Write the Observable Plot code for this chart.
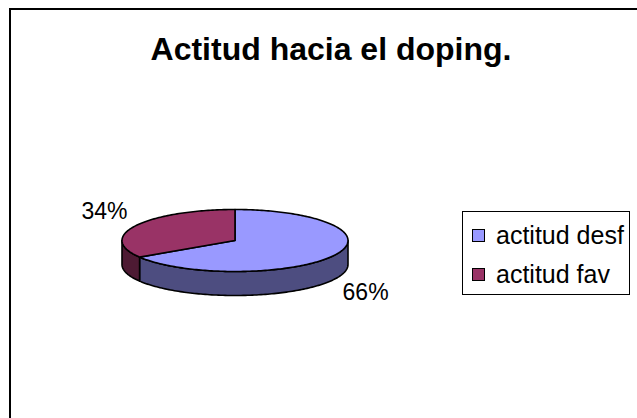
<!DOCTYPE html>
<html><head><meta charset="utf-8">
<script src="https://cdn.jsdelivr.net/npm/d3@7"></script>
<script src="https://cdn.jsdelivr.net/npm/@observablehq/plot@0.6"></script>
<style>
html,body{margin:0;padding:0;background:#fff;overflow:hidden;width:637px;height:418px;font-family:"Liberation Sans",Arial,sans-serif}
#frame{position:absolute;left:9px;top:8px;width:720px;height:520px;border:2px solid #000;box-sizing:border-box}
#chart{position:absolute;left:0;top:0}
#title{position:absolute;left:10px;width:642px;top:30px;text-align:center;font-weight:bold;font-size:32px;line-height:38px;color:#000}
#legend{position:absolute;left:462px;top:211px;width:168px;height:84px;border:1.5px solid #000;box-sizing:border-box;background:#fff}
.item{position:absolute;left:9px;height:26px;display:flex;align-items:center;font-size:25px;white-space:nowrap}
.sw{width:13px;height:13px;border:1px solid #000;box-sizing:border-box;margin-right:11px}
</style></head><body>
<div id="frame"></div>
<div id="chart"></div>
<div id="title"></div>
<div id="legend"></div>
<script>
// ---- data ----
const title = "Actitud hacia el doping.";
const categories = ["actitud desf", "actitud fav"];
const values = [66, 34];
const valueLabels = ["66%", "34%"];
const topColors = ["#9999FF", "#993366"];
const sideColors = ["#4D4D80", "#4D1A33"];

// ---- layout ----
const W = 637, H = 418;
const cx = 234.5, cy = 240, rx = 113, ry = 31, depth = 24;

const total = d3.sum(values);
const TAU = Math.PI * 2;
const pt = (t, dz = 0) => ({x: cx + rx * Math.sin(t), y: cy - ry * Math.cos(t) + dz});
function arc(a, b, dz = 0) {
  const n = Math.max(2, Math.ceil((b - a) / 0.02));
  return d3.range(n + 1).map(i => pt(a + (b - a) * i / n, dz));
}

let acc = 0;
const slices = values.map((v, i) => {
  const a = acc / total * TAU;
  acc += v;
  const b = acc / total * TAU;
  return {i, a, b, mid: (a + b) / 2};
});

const marks = [];
// sides (front half visible: PI/2 .. 3PI/2)
for (const s of slices) {
  const a = Math.max(s.a, Math.PI / 2), b = Math.min(s.b, 3 * Math.PI / 2);
  if (a < b) {
    const poly = arc(a, b).concat(arc(a, b, depth).reverse());
    marks.push(Plot.line(poly, {x: "x", y: "y", curve: "linear-closed", fill: sideColors[s.i], stroke: "#000", strokeWidth: 1.6, strokeLinejoin: "round"}));
  }
}
// tops
for (const s of slices) {
  const poly = [{x: cx, y: cy}].concat(arc(s.a, s.b));
  marks.push(Plot.line(poly, {x: "x", y: "y", curve: "linear-closed", fill: topColors[s.i], stroke: "#000", strokeWidth: 1.6, strokeLinejoin: "round"}));
}
// labels
const labelData = slices.map(s => {
  const sn = Math.sin(s.mid), cs = Math.cos(s.mid);
  return {
    text: valueLabels[s.i],
    x: cx + sn * (rx + 36),
    y: cy - cs * (ry + 28) + (cs < 0 ? depth : 0)
  };
});
marks.push(Plot.text(labelData, {x: "x", y: "y", text: "text", fontSize: 23, fill: "#000", fontFamily: "Liberation Sans, Arial, sans-serif"}));

const plot = Plot.plot({
  width: W, height: H,
  margin: 0,
  x: {domain: [0, W], axis: null},
  y: {domain: [H, 0], axis: null},
  style: {background: "transparent", overflow: "visible"},
  marks
});
document.getElementById("chart").appendChild(plot);

document.getElementById("title").textContent = title;
const leg = document.getElementById("legend");
categories.forEach((c, i) => {
  const it = document.createElement("div");
  it.className = "item";
  it.style.top = (10 + i * 39) + "px";
  const sw = document.createElement("div");
  sw.className = "sw";
  sw.style.background = topColors[i];
  const tx = document.createElement("span");
  tx.textContent = c;
  it.appendChild(sw); it.appendChild(tx);
  leg.appendChild(it);
});
</script>
</body></html>
